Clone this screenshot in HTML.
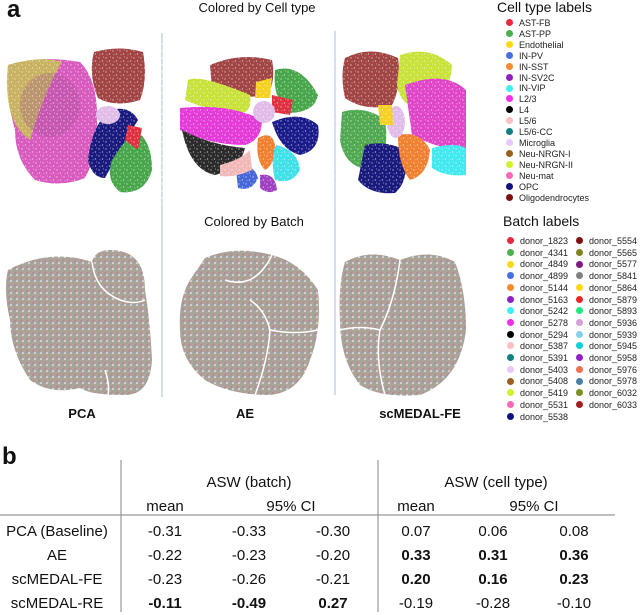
<!DOCTYPE html>
<html><head><meta charset="utf-8">
<style>
body{margin:0;background:#fff;width:640px;height:615px;overflow:hidden;position:relative;font-family:"Liberation Sans",sans-serif;color:#111}
.abs{position:absolute;white-space:nowrap}
.leg{position:absolute;font-size:9px;line-height:11px;color:#222}
.dot{display:inline-block;width:7px;height:7px;border-radius:50%;vertical-align:middle;margin-right:6px;position:relative;top:-1px}
</style></head><body>
<div class="abs" style="left:7px;top:-4px;font-size:24px;font-weight:bold">a</div>
<div class="abs" style="left:257px;top:0px;transform:translateX(-50%);font-size:13px">Colored by Cell type</div>
<div class="abs" style="left:254px;top:214px;transform:translateX(-50%);font-size:13px">Colored by Batch</div>
<svg class="abs" style="left:0;top:0" width="470" height="420">
<defs>
<pattern id="sp" width="7" height="7" patternUnits="userSpaceOnUse">
<circle cx="1" cy="2" r="0.7" fill="#fff"/><circle cx="4.5" cy="5" r="0.7" fill="#fff"/><circle cx="5.5" cy="1" r="0.5" fill="#fff"/><circle cx="2" cy="5.8" r="0.5" fill="#fff"/>
</pattern>
<pattern id="bt" width="6" height="6" patternUnits="userSpaceOnUse">
<rect width="6" height="6" fill="#b0a498"/><circle cx="1" cy="1" r="0.8" fill="#7fb38a"/><circle cx="4" cy="2" r="0.8" fill="#c77fb8"/><circle cx="2" cy="4.5" r="0.8" fill="#7f9ad0"/><circle cx="5" cy="5" r="0.8" fill="#fff"/><circle cx="3" cy="3" r="0.5" fill="#8a6a4a"/>
</pattern>
</defs>
<line x1="162" y1="33" x2="162" y2="397" stroke="#a9bfd6" stroke-width="1"/>
<line x1="335" y1="31" x2="335" y2="395" stroke="#a9bfd6" stroke-width="1"/>
<g>
<path d="M8 65 Q40 55 80 62 Q98 80 97 120 Q100 150 85 178 Q60 188 35 180 Q15 160 15 130 Q5 95 8 65Z" fill="#d85abf"/>
<path d="M8 65 Q40 55 62 62 Q45 90 30 140 Q15 130 10 110 Q5 90 8 65Z" fill="#c4c84a" opacity="0.8"/>
<ellipse cx="50" cy="105" rx="30" ry="32" fill="#a05090" opacity="0.3"/>
<path d="M94 52 Q120 45 143 52 Q148 80 140 100 Q115 108 98 98 Q88 75 94 52Z" fill="#a14444"/>
<path d="M110 110 Q130 105 138 120 Q120 150 105 178 Q92 178 88 160 Q92 125 110 110Z" fill="#1a1a7e"/>
<path d="M135 130 Q152 140 152 170 Q145 195 120 192 Q105 180 112 160 Q125 140 135 130Z" fill="#47a64a"/>
<path d="M128 125 L142 128 L138 150 L125 140Z" fill="#e03040"/>
<ellipse cx="108" cy="115" rx="12" ry="9" fill="#e0bde8"/>
</g>
<g>
<path d="M210 65 Q240 52 272 60 Q276 80 268 95 Q240 100 212 90Z" fill="#a14444"/>
<path d="M188 80 Q200 74 250 95 Q252 108 245 112 Q210 112 185 100Z" fill="#c9e23a"/>
<path d="M180 108 Q230 103 262 120 Q262 140 245 145 Q210 145 180 130Z" fill="#e33ad8"/>
<path d="M182 130 Q210 145 245 148 Q240 170 215 175 Q190 170 182 130Z" fill="#2a2a2a"/>
<path d="M275 70 Q300 62 318 95 Q315 112 290 113 Q272 100 275 70Z" fill="#47a64a"/>
<path d="M272 95 L293 100 L290 115 L272 112Z" fill="#e03040"/>
<ellipse cx="264" cy="112" rx="11" ry="11" fill="#e0bde8"/>
<path d="M272 122 Q300 110 318 125 Q322 150 300 155 Q280 150 272 122Z" fill="#1a1a8a"/>
<path d="M258 138 Q272 130 275 145 Q275 165 265 170 Q255 160 258 138Z" fill="#f08030"/>
<path d="M276 145 Q298 150 300 170 Q292 185 275 180 Q270 160 276 145Z" fill="#40e0e8"/>
<path d="M236 170 Q252 160 258 178 Q252 192 238 188Z" fill="#4466d8"/>
<path d="M260 175 Q275 172 277 190 Q268 195 260 188Z" fill="#a040c0"/>
<path d="M256 82 L272 78 L270 98 L255 98Z" fill="#f5d020"/>
<path d="M220 165 Q240 160 250 150 L252 170 Q235 178 220 176Z" fill="#f2b8b8"/>
</g>
<g>
<path d="M345 58 Q370 45 398 58 Q402 85 392 105 Q365 112 345 98 Q340 75 345 58Z" fill="#a14444"/>
<path d="M400 55 Q430 45 452 65 Q450 100 420 110 Q400 105 397 85Z" fill="#c9e23a"/>
<path d="M405 85 Q445 70 466 90 L466 150 Q440 150 412 135Z" fill="#e045c8"/>
<path d="M342 112 Q365 105 385 120 Q390 155 375 170 Q345 170 340 140Z" fill="#50a850"/>
<path d="M365 145 Q385 140 405 150 Q410 180 395 193 Q370 195 358 180Z" fill="#1a1a7e"/>
<path d="M398 135 Q420 130 430 150 Q428 175 410 180 Q398 165 398 135Z" fill="#f08030"/>
<ellipse cx="396" cy="122" rx="9" ry="16" fill="#e0bde8"/>
<path d="M378 105 L392 105 L393 125 L380 125Z" fill="#f5d020"/>
<path d="M432 148 Q455 142 466 148 L466 175 Q445 177 432 168Z" fill="#40e8f0"/>
</g>
<rect x="0" y="40" width="470" height="165" fill="url(#sp)" opacity="0.6"/>
<g fill="url(#bt)">
<path d="M8 270 Q50 248 92 262 Q95 250 110 250 Q145 250 145 290 Q150 320 152 360 Q150 395 125 395 Q90 395 80 388 Q50 395 30 380 Q10 350 10 320 Q3 290 8 270Z"/>
<path d="M205 258 Q235 245 272 255 Q300 262 318 290 Q322 330 310 360 Q300 392 270 395 Q230 395 205 380 Q180 360 180 330 Q178 300 190 280Z"/>
<path d="M345 262 Q370 248 400 260 Q430 248 455 262 Q466 290 466 330 Q460 380 420 395 Q380 398 360 385 Q340 360 340 320 Q338 285 345 262Z"/>
</g>
<g stroke="#fff" stroke-width="1.5" fill="none">
<path d="M92 262 Q95 290 120 300 Q135 305 145 300"/>
<path d="M105 370 Q110 385 108 395"/>
<path d="M250 300 Q265 310 270 330 Q268 360 255 395"/>
<path d="M270 330 Q295 335 318 330"/>
<path d="M225 280 Q255 290 272 255"/>
<path d="M400 260 Q395 300 380 330 Q375 360 385 395"/>
<path d="M340 330 Q360 325 380 330"/>
</g>
</svg>
<div class="abs" style="left:82px;top:406px;transform:translateX(-50%);font-size:13px;font-weight:bold">PCA</div>
<div class="abs" style="left:245px;top:406px;transform:translateX(-50%);font-size:13px;font-weight:bold">AE</div>
<div class="abs" style="left:420px;top:406px;transform:translateX(-50%);font-size:13px;font-weight:bold">scMEDAL-FE</div>

<div class="abs" style="left:497px;top:-1px;font-size:14px">Cell type labels</div>
<div class="leg" style="left:506px;top:18px;line-height:10.9px">
<div><span class="dot" style="background:#e8283c"></span>AST-FB</div>
<div><span class="dot" style="background:#4cb050"></span>AST-PP</div>
<div><span class="dot" style="background:#ffd81a"></span>Endothelial</div>
<div><span class="dot" style="background:#4a6ee0"></span>IN-PV</div>
<div><span class="dot" style="background:#f58a30"></span>IN-SST</div>
<div><span class="dot" style="background:#9020c0"></span>IN-SV2C</div>
<div><span class="dot" style="background:#40f0f0"></span>IN-VIP</div>
<div><span class="dot" style="background:#f030e8"></span>L2/3</div>
<div><span class="dot" style="background:#000"></span>L4</div>
<div><span class="dot" style="background:#f8c0c0"></span>L5/6</div>
<div><span class="dot" style="background:#108080"></span>L5/6-CC</div>
<div><span class="dot" style="background:#e8c8f8"></span>Microglia</div>
<div><span class="dot" style="background:#9a6020"></span>Neu-NRGN-I</div>
<div><span class="dot" style="background:#d0f030"></span>Neu-NRGN-II</div>
<div><span class="dot" style="background:#f868b8"></span>Neu-mat</div>
<div><span class="dot" style="background:#101080"></span>OPC</div>
<div><span class="dot" style="background:#801010"></span>Oligodendrocytes</div>
</div>
<div class="abs" style="left:503px;top:213px;font-size:14px">Batch labels</div>
<div class="leg" style="left:507px;top:236px;line-height:11.7px">
<div><span class="dot" style="background:#e8283c"></span>donor_1823</div>
<div><span class="dot" style="background:#4cb050"></span>donor_4341</div>
<div><span class="dot" style="background:#ffd81a"></span>donor_4849</div>
<div><span class="dot" style="background:#4a6ee0"></span>donor_4899</div>
<div><span class="dot" style="background:#f58a30"></span>donor_5144</div>
<div><span class="dot" style="background:#9020c0"></span>donor_5163</div>
<div><span class="dot" style="background:#40f0f0"></span>donor_5242</div>
<div><span class="dot" style="background:#f030e8"></span>donor_5278</div>
<div><span class="dot" style="background:#000"></span>donor_5294</div>
<div><span class="dot" style="background:#f8c0c0"></span>donor_5387</div>
<div><span class="dot" style="background:#108080"></span>donor_5391</div>
<div><span class="dot" style="background:#e8c8f8"></span>donor_5403</div>
<div><span class="dot" style="background:#9a6020"></span>donor_5408</div>
<div><span class="dot" style="background:#d0f030"></span>donor_5419</div>
<div><span class="dot" style="background:#f868b8"></span>donor_5531</div>
<div><span class="dot" style="background:#101080"></span>donor_5538</div>
</div>
<div class="leg" style="left:576px;top:236px;line-height:11.7px">
<div><span class="dot" style="background:#801010"></span>donor_5554</div>
<div><span class="dot" style="background:#808020"></span>donor_5565</div>
<div><span class="dot" style="background:#801880"></span>donor_5577</div>
<div><span class="dot" style="background:#808080"></span>donor_5841</div>
<div><span class="dot" style="background:#ffd81a"></span>donor_5864</div>
<div><span class="dot" style="background:#e82828"></span>donor_5879</div>
<div><span class="dot" style="background:#20e880"></span>donor_5893</div>
<div><span class="dot" style="background:#d8a0d8"></span>donor_5936</div>
<div><span class="dot" style="background:#88d0e8"></span>donor_5939</div>
<div><span class="dot" style="background:#10d0d8"></span>donor_5945</div>
<div><span class="dot" style="background:#9020c8"></span>donor_5958</div>
<div><span class="dot" style="background:#f07050"></span>donor_5976</div>
<div><span class="dot" style="background:#4880a8"></span>donor_5978</div>
<div><span class="dot" style="background:#789020"></span>donor_6032</div>
<div><span class="dot" style="background:#a02020"></span>donor_6033</div>
</div>

<div class="abs" style="left:2px;top:443px;font-size:24px;font-weight:bold">b</div>
<svg class="abs" style="left:0;top:460px" width="640" height="155" font-family="Liberation Sans, sans-serif" font-size="15" fill="#111">
<line x1="0" y1="55" x2="615" y2="55" stroke="#999" stroke-width="1.2"/>
<line x1="121" y1="0" x2="121" y2="152" stroke="#999" stroke-width="1.2"/>
<line x1="378" y1="0" x2="378" y2="152" stroke="#999" stroke-width="1.2"/>
<text x="249" y="27" text-anchor="middle">ASW (batch)</text>
<text x="496" y="27" text-anchor="middle">ASW (cell type)</text>
<text x="165" y="51" text-anchor="middle">mean</text>
<text x="291" y="51" text-anchor="middle">95% CI</text>
<text x="416" y="51" text-anchor="middle">mean</text>
<text x="534" y="51" text-anchor="middle">95% CI</text>
<g id="rows"></g>
</svg>
<script>
const methods=["PCA (Baseline)","AE","scMEDAL-FE","scMEDAL-RE"];
const batchVals=[["-0.31","-0.33","-0.30"],["-0.22","-0.23","-0.20"],["-0.23","-0.26","-0.21"],["-0.11","-0.49","0.27"]];
const cellVals=[["0.07","0.06","0.08"],["0.33","0.31","0.36"],["0.20","0.16","0.23"],["-0.19","-0.28","-0.10"]];
const batchBold=[false,false,false,true];
const cellBold=[false,true,true,false];
const g=document.getElementById('rows');
const cx=[165,249,333,416,493,574];
methods.forEach((m,i)=>{
  const y=76+i*24;
  const t=document.createElementNS('http://www.w3.org/2000/svg','text');
  t.setAttribute('x',57);t.setAttribute('y',y);t.setAttribute('text-anchor','middle');
  
  
  t.textContent=m;g.appendChild(t);
  const vals=batchVals[i].concat(cellVals[i]);
  vals.forEach((v,j)=>{
    const c=document.createElementNS('http://www.w3.org/2000/svg','text');
    c.setAttribute('x',cx[j]);c.setAttribute('y',y);c.setAttribute('text-anchor','middle');
    if((j<3&&batchBold[i])||(j>=3&&cellBold[i]))c.setAttribute('font-weight','bold');
    
    
    c.textContent=v;g.appendChild(c);
  });
});
</script>
</body></html>
